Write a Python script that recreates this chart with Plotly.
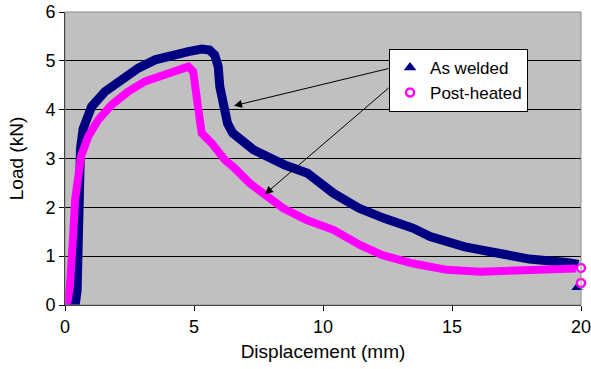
import plotly.graph_objects as go

# As welded (navy)
aw_x = [0.0, 0.2, 0.4, 0.47, 0.5, 0.52, 0.55, 0.6, 0.7, 0.85, 1.03, 1.55, 2.2, 2.84, 3.49, 4.13,
        4.78, 5.3, 5.6, 5.8, 5.94, 6.0, 6.14, 6.3, 6.5, 7.3, 8.5, 9.4, 10.4, 11.4, 12.4, 13.5,
        14.15, 15.5, 16.8, 18.0, 19.45, 19.9]
aw_y = [0.0, 0.0, 0.02, 0.3, 1.0, 2.0, 2.8, 3.2, 3.6, 3.88, 4.06, 4.37, 4.64, 4.85, 5.02, 5.12,
        5.19, 5.24, 5.22, 5.12, 4.88, 4.47, 4.0, 3.72, 3.52, 3.18, 2.87, 2.7, 2.29, 1.98, 1.77, 1.57,
        1.4, 1.19, 1.06, 0.94, 0.87, 0.83]

# Post-heated (magenta)
ph_x = [0.0, 0.1, 0.19, 0.26, 0.32, 0.39, 0.49, 0.62, 0.9, 1.29, 1.81, 2.45, 3.1, 3.75, 4.39,
        4.78, 4.97, 5.04, 5.17, 5.3, 5.69, 6.2, 6.52, 7.17, 7.82, 8.46, 9.37, 10.4, 11.43,
        12.3, 13.5, 14.8, 16.1, 17.4, 18.7, 19.8]
ph_y = [0.05, 0.08, 0.38, 0.79, 1.47, 2.15, 2.63, 3.04, 3.45, 3.79, 4.1, 4.37, 4.58, 4.71, 4.82,
        4.88, 4.78, 4.41, 4.0, 3.52, 3.31, 2.97, 2.83, 2.49, 2.22, 1.98, 1.74, 1.54, 1.23,
        1.02, 0.85, 0.72, 0.68, 0.70, 0.74, 0.75]

# isolated end points at x = 20
aw_end_x = [19.85]
aw_end_y = [0.36]
ph_end_x = [20.0, 20.0]
ph_end_y = [0.76, 0.45]

x_ticks = [0, 5, 10, 15, 20]
y_ticks = [0, 1, 2, 3, 4, 5, 6]

NAVY = "#000080"
MAG = "#FF00FF"
FONT = "Liberation Sans, Arial, sans-serif"

fig = go.Figure()
fig.add_trace(go.Scatter(x=aw_x, y=aw_y, mode="lines", line=dict(color=NAVY, width=9),
                         showlegend=False, hoverinfo="skip"))
fig.add_trace(go.Scatter(x=ph_x, y=ph_y, mode="lines", line=dict(color=MAG, width=8),
                         showlegend=False, hoverinfo="skip"))
fig.add_trace(go.Scatter(x=aw_end_x, y=aw_end_y, mode="markers",
                         marker=dict(symbol="triangle-up", color=NAVY, size=10),
                         showlegend=False, cliponaxis=False, hoverinfo="skip"))
fig.add_trace(go.Scatter(x=ph_end_x, y=ph_end_y, mode="markers",
                         marker=dict(symbol="circle", color="white", size=8,
                                     line=dict(color=MAG, width=2.5)),
                         showlegend=False, cliponaxis=False, hoverinfo="skip"))
# legend entries
fig.add_trace(go.Scatter(x=[None], y=[None], mode="markers", name="As welded",
                         marker=dict(symbol="triangle-up", color=NAVY, size=11)))
fig.add_trace(go.Scatter(x=[None], y=[None], mode="markers", name="Post-heated",
                         marker=dict(symbol="circle", color="white", size=8,
                                     line=dict(color=MAG, width=2.5))))

fig.add_annotation(x=6.55, y=4.08, ax=12.6, ay=4.85, xref="x", yref="y", axref="x", ayref="y",
                   showarrow=True, arrowhead=2, arrowsize=1.6, arrowwidth=1, arrowcolor="black", text="")
fig.add_annotation(x=7.75, y=2.27, ax=12.6, ay=4.47, xref="x", yref="y", axref="x", ayref="y",
                   showarrow=True, arrowhead=2, arrowsize=1.6, arrowwidth=1, arrowcolor="black", text="")

fig.add_shape(type="rect", xref="paper", yref="paper", x0=0, y0=0, x1=1, y1=1,
              line=dict(color="#8C8C8C", width=1), layer="above")

fig.update_layout(
    width=591, height=369,
    margin=dict(l=65, r=10, t=12, b=64),
    paper_bgcolor="white", plot_bgcolor="#C0C0C0",
    font=dict(family=FONT, size=18, color="black"),
    legend=dict(x=0.628, y=0.874, xanchor="left", yanchor="top",
                bgcolor="white", bordercolor="black", borderwidth=1,
                font=dict(size=17), itemwidth=30, tracegroupgap=10),
    xaxis=dict(range=[0, 20], tickvals=x_ticks, showgrid=False, zeroline=False,
               showline=True, linecolor="black", linewidth=1, ticks="outside",
               ticklen=5, tickcolor="black", automargin=False, ticklabeloverflow="allow",
               title=dict(text="Displacement (mm)", font=dict(size=19), standoff=9)),
    yaxis=dict(range=[0, 6], tickvals=y_ticks, showgrid=True, gridcolor="black", gridwidth=1,
               zeroline=False, showline=True, linecolor="black", linewidth=1, ticks="outside",
               ticklen=5, tickcolor="black", automargin=False, ticklabeloverflow="allow",
               title=dict(text="Load (kN)", font=dict(size=19), standoff=16)),
)

fig.write_html("out.html", config={"displayModeBar": False},
               post_script="document.body.style.margin='0';")
